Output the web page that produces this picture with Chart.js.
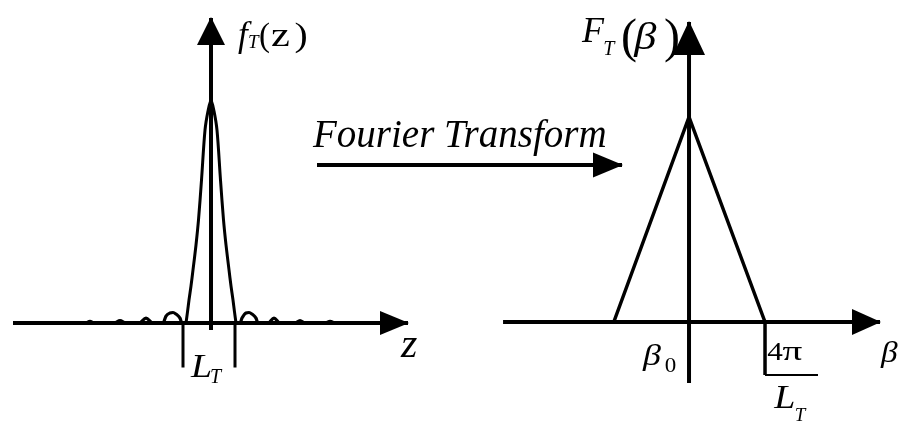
<!DOCTYPE html>
<html>
<head>
<meta charset="utf-8">
<script src="https://cdn.jsdelivr.net/npm/chart.js@4/dist/chart.umd.min.js"></script>
<style>
  html, body { margin: 0; padding: 0; background: #fff; }
  #grafica { display: block; }
</style>
</head>
<body>
<canvas id="grafica" width="900" height="429"></canvas>
<script>
// left panel f_T(z), z in units of L_T/2, f normalised to the peak
var zAxis = [-7.92, 7.88];
var fAxis = [-0.031, 1.368];
// main lobe
var zLobe = [-1.00, -0.94, -0.88, -0.80, -0.72, -0.60, -0.50, -0.38, -0.24, -0.12, 0,
  0.12, 0.24, 0.38, 0.50, 0.60, 0.72, 0.80, 0.88, 0.94, 1.00];
var fLobe = [0, 0.05, 0.103, 0.166, 0.238, 0.35, 0.462, 0.641, 0.865, 0.95, 1,
  0.95, 0.865, 0.641, 0.462, 0.35, 0.238, 0.166, 0.103, 0.05, 0];
// side lobes
var zSide = [-5.0, -4.84, -4.68, -3.88, -3.64, -3.40, -2.88, -2.60, -2.32, -1.92, -1.80, -1.64, -1.52, -1.40, -1.24, -1.16,
  1.16, 1.24, 1.40, 1.52, 1.64, 1.80, 1.88, 2.28, 2.52, 2.76, 3.36, 3.56, 3.76, 4.56, 4.76, 4.96];
var fSide = [0, 0.007, 0, 0, 0.011, 0, 0, 0.022, 0, 0, 0.031, 0.045, 0.047, 0.040, 0.022, 0,
  0, 0.022, 0.045, 0.047, 0.040, 0.022, 0, 0, 0.022, 0, 0, 0.011, 0, 0, 0.007, 0];
var zTickLeft = [-1.12, -1.12];
var zTickRight = [0.96, 0.96];
var fTick = [0, -0.2];

// right panel F_T(beta), beta in units of 4pi/L_T
var betaAxis = [-2.447, 2.513];
var FAxis = [-0.298, 1.463];
var betaTriangle = [-0.99, 0, 1];
var FTriangle = [0, 1, 0];
var betaTick = [1, 1];
var FTick = [0, -0.259];
var betaBar = [1, 1.697];
var FBar = [-0.259, -0.259];

// "Fourier Transform" arrow, in left panel units
var zArrow = [4.24, 16.44];
var fArrow = [0.709, 0.709];

function pts(xs, ys) {
  return xs.map(function(x, i) { return {x: x, y: ys[i]}; });
}

var labels = [
  {t: 'f', p: 'L', x: 1.08, y: 1.242, size: 35, it: true},
  {t: 'T', p: 'L', x: 1.48, y: 1.233, size: 19, it: true},
  {t: '(', p: 'L', x: 1.92, y: 1.242, size: 33},
  {t: 'z', p: 'L', x: 2.40, y: 1.242, size: 34, sx: 1.25},
  {t: ')', p: 'L', x: 3.34, y: 1.242, size: 33, sx: 1.2},
  {t: 'Fourier Transform', p: 'L', x: 4.08, y: 0.789, size: 39, it: true},
  {t: 'z', p: 'L', x: 7.6, y: -0.152, size: 42, it: true},
  {t: 'L', p: 'L', x: -0.80, y: -0.242, size: 33, it: true, sx: 1.15},
  {t: 'T', p: 'L', x: -0.04, y: -0.269, size: 20, it: true},
  {t: 'F', p: 'R', x: -1.408, y: 1.366, size: 36, it: true},
  {t: 'T', p: 'R', x: -1.13, y: 1.302, size: 20, it: true},
  {t: '(', p: 'R', x: -0.895, y: 1.317, size: 48},
  {t: 'β', p: 'R', x: -0.72, y: 1.332, size: 37, it: true, sx: 1.2},
  {t: ')', p: 'R', x: -0.33, y: 1.317, size: 48},
  {t: 'β', p: 'R', x: -0.605, y: -0.21, size: 30, it: true, sx: 1.2},
  {t: '0', p: 'R', x: -0.32, y: -0.244, size: 20, sx: 1.15},
  {t: '4', p: 'R', x: 1.03, y: -0.185, size: 26, sx: 1.2},
  {t: 'π', p: 'R', x: 1.23, y: -0.185, size: 27, sx: 1.45},
  {t: 'L', p: 'R', x: 1.12, y: -0.42, size: 33, it: true, sx: 1.15},
  {t: 'T', p: 'R', x: 1.39, y: -0.483, size: 19, it: true},
  {t: 'β', p: 'R', x: 2.526, y: -0.195, size: 29, it: true, sx: 1.15}
];

var arrowHeads = {
  id: 'arrowHeads',
  afterDatasetsDraw: function(chart) {
    var ctx = chart.ctx;
    chart.data.datasets.forEach(function(ds, i) {
      if (!ds.arrow) return;
      var p = chart.getDatasetMeta(i).data;
      var a = p[p.length - 2], b = p[p.length - 1];
      ctx.save();
      ctx.translate(b.x, b.y);
      ctx.rotate(Math.atan2(b.y - a.y, b.x - a.x));
      ctx.beginPath();
      ctx.moveTo(1, 0);
      ctx.lineTo(-ds.arrow[0], -ds.arrow[1]);
      ctx.lineTo(-ds.arrow[0], ds.arrow[1]);
      ctx.closePath();
      ctx.fillStyle = '#000';
      ctx.fill();
      ctx.restore();
    });
  }
};

var textos = {
  id: 'textos',
  afterDatasetsDraw: function(chart) {
    var ctx = chart.ctx;
    labels.forEach(function(l) {
      var sx = chart.scales[l.p === 'L' ? 'xz' : 'xb'];
      var sy = chart.scales[l.p === 'L' ? 'yf' : 'yb'];
      ctx.save();
      ctx.font = (l.it ? 'italic ' : '') + l.size + 'px "Liberation Serif", "DejaVu Serif", serif';
      ctx.fillStyle = '#000';
      ctx.textAlign = 'left';
      ctx.textBaseline = 'alphabetic';
      ctx.translate(sx.getPixelForValue(l.x), sy.getPixelForValue(l.y));
      if (l.sx) ctx.scale(l.sx, 1);
      ctx.fillText(l.t, 0, 0);
      ctx.restore();
    });
  }
};

function linea(data, xs, ys, w, extra) {
  var d = {data: pts(data[0], data[1]), xAxisID: xs, yAxisID: ys, borderColor: '#000',
    borderWidth: w, pointRadius: 0, fill: false, tension: 0, borderCapStyle: 'butt'};
  for (var k in extra) d[k] = extra[k];
  return d;
}

var ctx = document.getElementById('grafica').getContext('2d');
var grafica = new Chart(ctx, {
  type: 'line',
  data: {
    datasets: [
      linea([zAxis, [0, 0]], 'xz', 'yf', 4, {arrow: [28, 12]}),
      linea([[0, 0], fAxis], 'xz', 'yf', 4, {arrow: [27, 14]}),
      linea([zTickLeft, fTick], 'xz', 'yf', 3),
      linea([zTickRight, fTick], 'xz', 'yf', 3),
      linea([zLobe, fLobe], 'xz', 'yf', 3, {tension: 0.3}),
      linea([zSide, fSide], 'xz', 'yf', 3.2, {cubicInterpolationMode: 'monotone'}),
      linea([zArrow, fArrow], 'xz', 'yf', 4, {arrow: [29, 12.5]}),
      linea([betaAxis, [0, 0]], 'xb', 'yb', 4, {arrow: [28, 13]}),
      linea([[0, 0], FAxis], 'xb', 'yb', 4, {arrow: [33, 16]}),
      linea([betaTick, FTick], 'xb', 'yb', 3.5),
      linea([betaBar, FBar], 'xb', 'yb', 2),
      linea([betaTriangle, FTriangle], 'xb', 'yb', 3.5)
    ]
  },
  options: {
    responsive: false,
    animation: false,
    events: [],
    layout: { padding: 0 },
    plugins: { legend: { display: false }, tooltip: { enabled: false }, title: { display: false } },
    scales: {
      xz: { type: 'linear', axis: 'x', min: -8.44, max: 27.56, display: false },
      yf: { type: 'linear', axis: 'y', min: -0.4753, max: 1.4484, display: false },
      xb: { type: 'linear', axis: 'x', min: -9.066, max: 2.776, display: false },
      yb: { type: 'linear', axis: 'y', min: -0.522, max: 1.5707, display: false }
    }
  },
  plugins: [arrowHeads, textos]
});
</script>
</body>
</html>
